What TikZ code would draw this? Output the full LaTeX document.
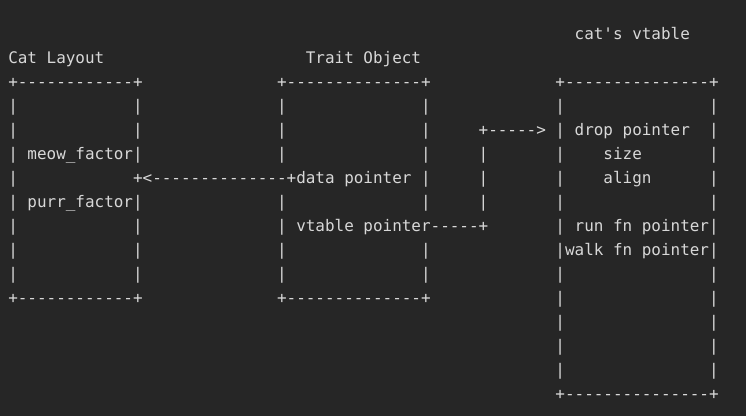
\documentclass[tikz,border=0pt]{standalone}
\usepackage{fontspec}
\setmonofont{DejaVu Sans Mono}
\usepackage{tikz}

\definecolor{bg}{HTML}{262626}
\definecolor{fg}{HTML}{D8D8D8}
\tikzset{ascii/.style={anchor=base west, inner sep=0pt, outer sep=0pt, text=fg,
    font=\ttfamily\fontsize{11.96}{18}\selectfont}}

\begin{document}
\begin{tikzpicture}[x=7.2pt, y=-18pt]
    \fill[bg] (0,0) rectangle (77.708,17.333);
    \useasboundingbox (0,0) rectangle (77.708,17.333);
  \begin{scope}[shift={(0.86,1.625)}]
    % titulos
    \node[ascii] (vtTitle) at (59,0) {cat's vtable};
    \node[ascii] (catTitle) at (0,1) {Cat Layout};
    \node[ascii] (objTitle) at (31,1) {Trait Object};

    % caixa Cat Layout
    \node[ascii] (catTop) at (0,2) {+------------+};
    \node[ascii] (catBot) at (0,11) {+------------+};
    \foreach \r in {3,...,10}
        \node[ascii] (catL-\r) at (0,\r) {|};
    \foreach \r in {3,4,5,7,8,9,10}
        \node[ascii] (catR-\r) at (13,\r) {|};
    \node[ascii] (meow) at (2,5) {meow\_factor};
    \node[ascii] (purr) at (2,7) {purr\_factor};

    % caixa Trait Object
    \node[ascii] (objTop) at (28,2) {+--------------+};
    \node[ascii] (objBot) at (28,11) {+--------------+};
    \foreach \r in {3,4,5,7,8,9,10}
        \node[ascii] (objL-\r) at (28,\r) {|};
    \foreach \r in {3,4,5,6,7,9,10}
        \node[ascii] (objR-\r) at (43,\r) {|};
    \node[ascii] (dataArrow) at (13,6) {+<--------------+};
    \node[ascii] (dataPtr) at (30,6) {data pointer};
    \node[ascii] (vtPtr) at (30,8) {vtable pointer};

    % ligacao vtable pointer -> vtable
    \node[ascii] (linkEnd) at (44,8) {-----+};
    \foreach \r in {5,6,7}
        \node[ascii] (link-\r) at (49,\r) {|};
    \node[ascii] (linkArrow) at (49,4) {+----->};

    % caixa cat's vtable
    \node[ascii] (vtTop) at (57,2) {+---------------+};
    \node[ascii] (vtBot) at (57,15) {+---------------+};
    \foreach \r in {3,...,14}
        \node[ascii] (vtL-\r) at (57,\r) {|};
    \foreach \r in {3,...,14}
        \node[ascii] (vtR-\r) at (73,\r) {|};
    \node[ascii] (drop) at (59,4) {drop pointer};
    \node[ascii] (size) at (62,5) {size};
    \node[ascii] (align) at (62,6) {align};
    \node[ascii] (runFn) at (59,8) {run fn pointer};
    \node[ascii] (walkFn) at (58,9) {walk fn pointer};
  \end{scope}
\end{tikzpicture}
\end{document}
